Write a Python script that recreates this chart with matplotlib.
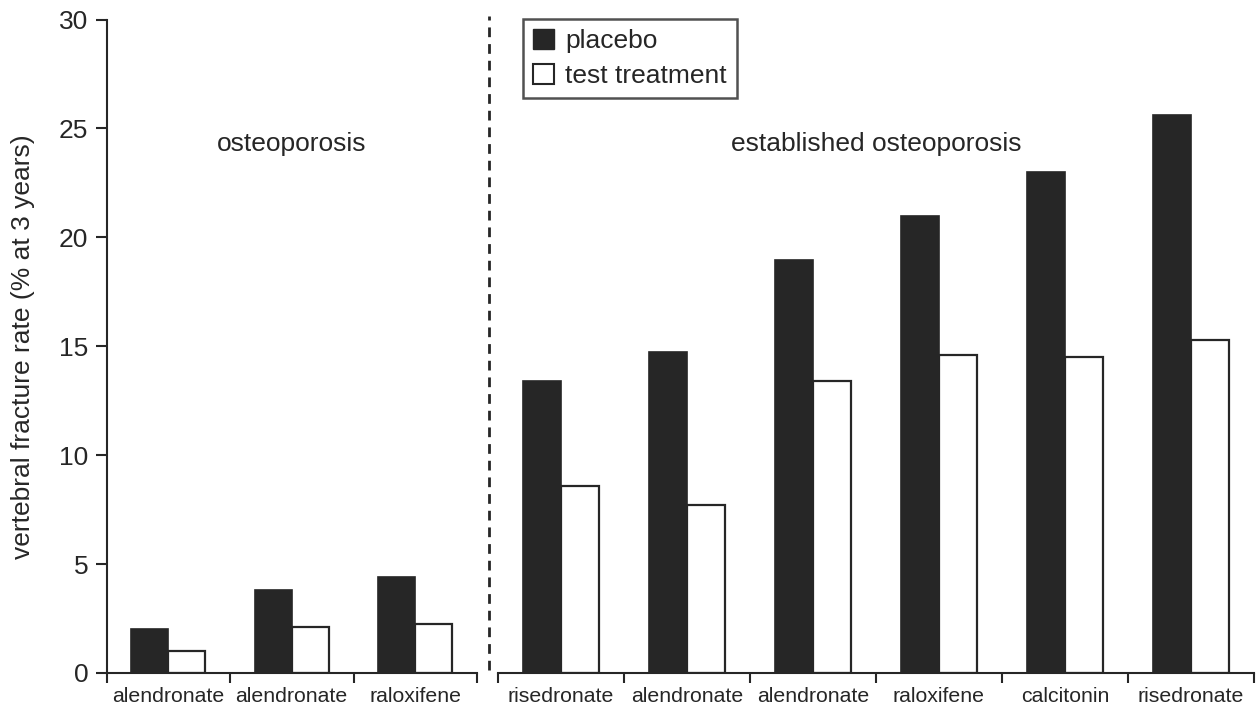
import numpy as np
import matplotlib.pyplot as plt
from matplotlib.patches import Patch
from matplotlib.lines import Line2D

plt.rcParams['font.family'] = ['Liberation Sans', 'DejaVu Sans']

# Daten
left_drugs = ["alendronate", "alendronate", "raloxifene"]
left_placebo = [2.0, 3.8, 4.4]
left_test = [1.0, 2.1, 2.25]

right_drugs = ["risedronate", "alendronate", "alendronate", "raloxifene", "calcitonin", "risedronate"]
right_placebo = [13.4, 14.75, 18.95, 21.0, 23.0, 25.6]
right_test = [8.6, 7.7, 13.4, 14.6, 14.5, 15.3]

dark = '#262626'
W, H = 1256, 708
fs = 19

fig = plt.figure(figsize=(W/100, H/100), dpi=100)
ax1 = fig.add_axes([106.5/W, (H-673)/H, (477-106.5)/W, (673-19.5)/H])
ax2 = fig.add_axes([498/W, (H-673)/H, (1254-498)/W, (673-19.5)/H])

def draw_group(ax, drugs, placebo, test):
    x = np.arange(len(drugs))
    bw = 0.3
    ax.bar(x - bw/2, placebo, bw, color=dark, edgecolor=dark, linewidth=1.2)
    ax.bar(x + bw/2, test, bw, color='white', edgecolor=dark, linewidth=1.6)
    ax.set_xlim(-0.5, len(drugs) - 0.5)
    ax.set_ylim(0, 30)
    ax.set_xticks(x)
    ax.set_xticklabels(drugs, fontsize=15.3, color=dark)
    ax.tick_params(axis='x', which='major', length=0, pad=10)
    ax.set_xticks(np.arange(len(drugs) + 1) - 0.5, minor=True)
    ax.tick_params(axis='x', which='minor', direction='out', length=7, width=1.5, color=dark)
    for s in ['top', 'right']:
        ax.spines[s].set_visible(False)
    ax.spines['bottom'].set_linewidth(1.5)
    ax.spines['bottom'].set_color(dark)

draw_group(ax1, left_drugs, left_placebo, left_test)
draw_group(ax2, right_drugs, right_placebo, right_test)

ax1.set_yticks(np.arange(0, 31, 5))
ax1.tick_params(axis='y', direction='out', length=8, width=1.5, color=dark, labelsize=fs,
                labelcolor=dark, pad=5)
ax1.spines['left'].set_linewidth(1.5)
ax1.spines['left'].set_color(dark)
fig.text(23/W, (H-347)/H, "vertebral fracture rate (% at 3 years)", rotation=90,
         ha='center', va='center', fontsize=fs, color=dark)

ax2.spines['left'].set_visible(False)
ax2.set_yticks([])

ax1.text(1, 24.3, "osteoporosis", ha='center', va='center', fontsize=fs, color=dark)
ax2.text(2.5, 24.3, "established osteoporosis", ha='center', va='center', fontsize=fs, color=dark)

# gestrichelte Trennlinie
fig.add_artist(Line2D([489/W, 489/W], [(H-670)/H, (H-16)/H], color=dark,
                      linestyle=(0, (3.5, 2.5)), linewidth=2))

handles = [Patch(facecolor=dark, edgecolor=dark), Patch(facecolor='white', edgecolor=dark, linewidth=1.5)]
leg = fig.legend(handles, ["placebo", "test treatment"], loc='upper left',
                 bbox_to_anchor=(523/W, (H-19)/H), fontsize=fs, frameon=True,
                 fancybox=False, handlelength=0.78, handleheight=0.78, handletextpad=0.45,
                 borderpad=0.38, labelspacing=0.42, borderaxespad=0)
leg.get_frame().set_edgecolor(dark)
leg.get_frame().set_linewidth(1.8)
for t in leg.get_texts():
    t.set_color(dark)

plt.savefig("out.png", dpi=100)
